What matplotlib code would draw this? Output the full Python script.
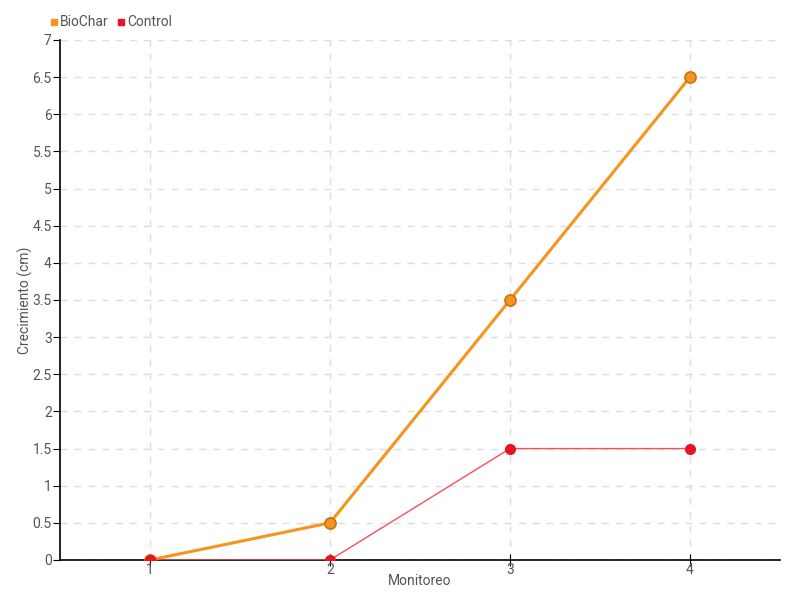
import matplotlib
matplotlib.use("Agg")
import matplotlib.pyplot as plt
from matplotlib.lines import Line2D

monitoreo = [1, 2, 3, 4]
biochar = [0, 0.5, 3.5, 6.5]
control = [0, 0, 1.5, 1.5]
yticks = [0, 0.5, 1, 1.5, 2, 2.5, 3, 3.5, 4, 4.5, 5, 5.5, 6, 6.5, 7]
ytick_labels = ["0", "0.5", "1", "1.5", "2", "2.5", "3", "3.5", "4", "4.5", "5", "5.5", "6", "6.5", "7"]

plt.rcParams['font.family'] = ['Roboto', 'DejaVu Sans']
txt = '#555555'

fig = plt.figure(figsize=(8, 6), dpi=100)
ax = fig.add_axes([0.075, 0.0667, 0.9, 0.8667])

ax.plot(monitoreo, biochar, color='#F7941D', lw=2.2, zorder=3,
        marker='o', ms=8, mfc='#F7941D', mec='#C8711A', mew=1.2)
ax.plot(monitoreo, control, color='#F5505A', lw=1, zorder=4,
        marker='o', ms=7, mfc='#E8141F', mec='#E8141F')

ax.set_xlim(0.5, 4.5)
ax.set_ylim(0, 7)
ax.set_xticks(monitoreo)
ax.set_xticklabels([str(m) for m in monitoreo])
ax.set_yticks(yticks)
ax.set_yticklabels(ytick_labels)

ax.grid(True, color='#DDDDDD', linestyle=(0, (5, 5)), lw=1)
ax.set_axisbelow(True)
for s in ['top', 'right']:
    ax.spines[s].set_visible(False)
for s in ['left', 'bottom']:
    ax.spines[s].set_color('black')
    ax.spines[s].set_linewidth(1.2)

ax.tick_params(axis='y', direction='out', length=5, colors='black', labelcolor=txt, labelsize=10, pad=1)
ax.tick_params(axis='x', direction='inout', length=8, colors='black', labelcolor=txt, labelsize=10, pad=-2)

ax.set_xlabel('Monitoreo', color=txt, fontsize=10)
ax.set_ylabel('Crecimiento (cm)', color=txt, fontsize=10)
ax.yaxis.set_label_coords(-0.038, 0.5)
ax.xaxis.set_label_coords(0.5, -0.026)

handles = [Line2D([], [], ls='', marker='s', ms=5, color='#F7941D'),
           Line2D([], [], ls='', marker='s', ms=5, color='#E8141F')]
fig.legend(handles, ['BioChar', 'Control'], loc='upper left', bbox_to_anchor=(0.045, 0.995),
           ncol=2, frameon=False, fontsize=10, handletextpad=0.05, columnspacing=0.5,
           labelcolor=txt, handlelength=0.8)

fig.savefig('out.png', dpi=100)
